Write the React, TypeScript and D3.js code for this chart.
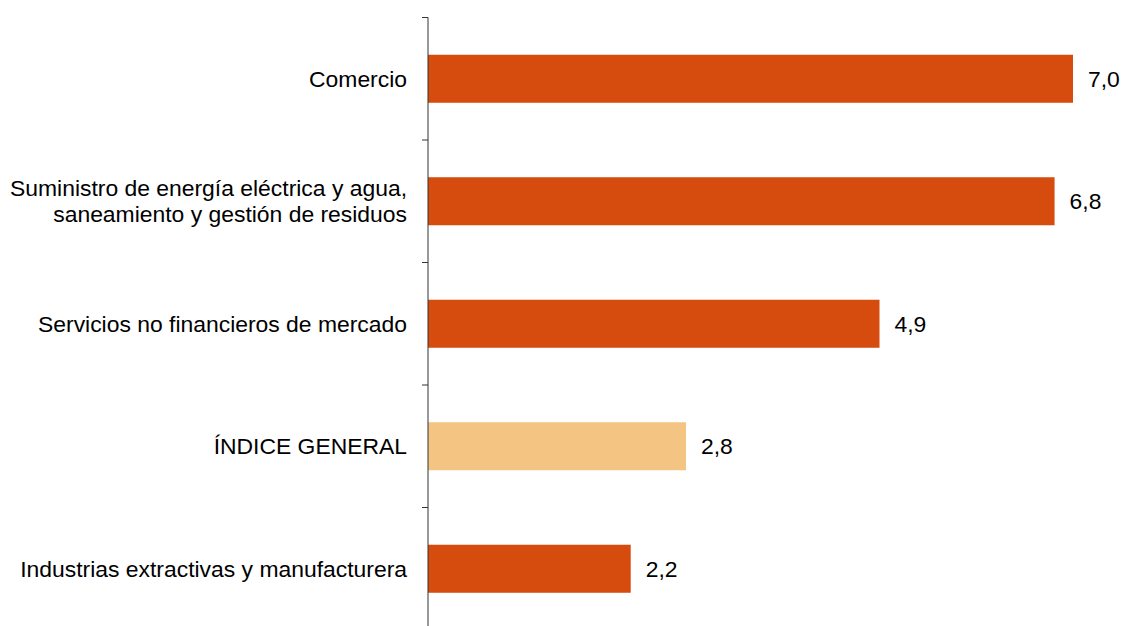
import React from "react";
import * as d3 from "d3";

const categories: string[][] = [
  ["Comercio"],
  ["Suministro de energía eléctrica y agua,", "saneamiento y gestión de residuos"],
  ["Servicios no financieros de mercado"],
  ["ÍNDICE GENERAL"],
  ["Industrias extractivas y manufacturera"],
];
const values: number[] = [7.0, 6.8, 4.9, 2.8, 2.2];
const highlight: boolean[] = [false, false, false, true, false];

const W = 1124;
const H = 626;
const axisX = 428;
const top = 17.5;
const band = 122.5;

export default function App() {
  const ids = categories.map((_, i) => String(i));
  const y = d3
    .scaleBand<string>()
    .domain(ids)
    .range([top, top + band * ids.length])
    .paddingInner(0.608)
    .paddingOuter(0.304);
  const yb = d3.scaleBand<string>().domain(ids).range([top, top + band * ids.length]);
  const x = d3.scaleLinear().domain([0, 7]).range([axisX, 1073]);
  const fmt = (v: number) => d3.format(".1f")(v).replace(".", ",");
  const font = "'Liberation Sans', Arial, sans-serif";
  const fs = 22.9;
  return (
    <svg
      width={W}
      height={H}
      style={{ position: "absolute", left: 0, top: 0, background: "#fff" }}
      fontFamily={font}
    >
      {ids.map((id, i) => {
        const y0 = y(id)!;
        const h = y.bandwidth();
        const cy = y0 + h / 2;
        const lines = categories[i];
        const lh = 26;
        return (
          <g key={id}>
            <rect
              x={x(0)}
              y={y0}
              width={x(values[i]) - x(0)}
              height={h}
              fill={highlight[i] ? "#F4C483" : "#D64C0F"}
            />
            <text
              x={x(values[i]) + 15}
              y={cy}
              dy="0.35em"
              fontSize={fs}
              fill="#000"
            >
              {fmt(values[i])}
            </text>
            {lines.map((l, j) => (
              <text
                key={j}
                x={axisX - 21}
                y={cy + (j - (lines.length - 1) / 2) * lh}
                dy="0.35em"
                textAnchor="end"
                fontSize={fs}
                fill="#000"
              >
                {l}
              </text>
            ))}
          </g>
        );
      })}
      <line x1={axisX} x2={axisX} y1={top} y2={H} stroke="#333" strokeWidth={1} />
      {ids.map((id) => (
        <line
          key={id}
          x1={axisX - 6}
          x2={axisX}
          y1={yb(id)!}
          y2={yb(id)!}
          stroke="#333"
          strokeWidth={1}
        />
      ))}
    </svg>
  );
}
